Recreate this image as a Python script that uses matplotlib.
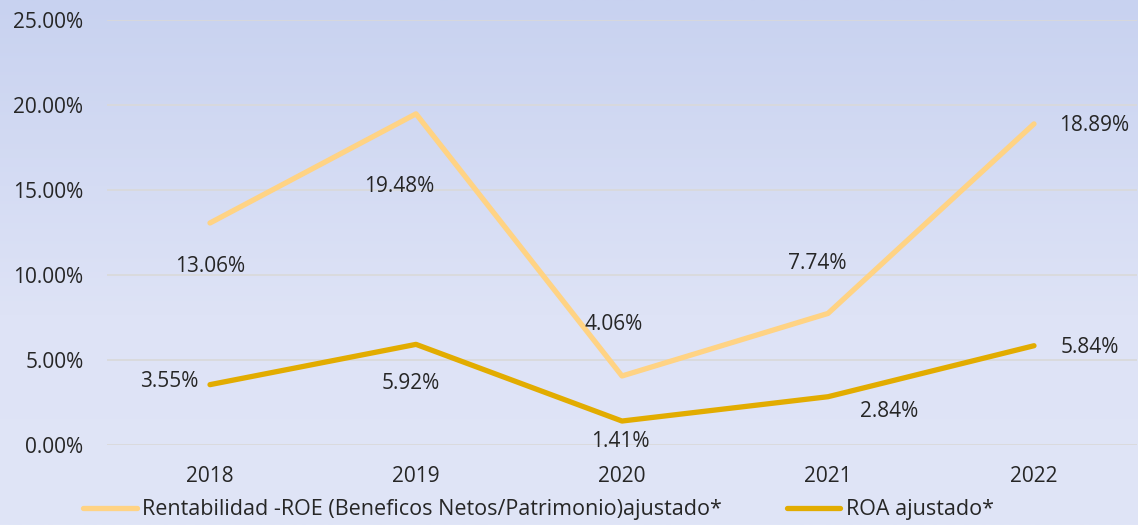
import matplotlib.pyplot as plt
import matplotlib as mpl
import numpy as np
from matplotlib.colors import LinearSegmentedColormap

mpl.rcParams.update({
    "font.family": ["Open Sans", "DejaVu Sans"],
    "font.size": 15,
    "text.color": "#262626",
    "xtick.color": "#262626",
    "ytick.color": "#262626",
})

years = ["2018", "2019", "2020", "2021", "2022"]
roe = [13.06, 19.48, 4.06, 7.74, 18.89]
roa = [3.55, 5.92, 1.41, 2.84, 5.84]
roe_label = "Rentabilidad -ROE (Beneficos Netos/Patrimonio)ajustado*"
roa_label = "ROA ajustado*"

# label offsets in points (dx, dy, ha)
roe_offsets = [(0, -31, "center"), (-12, -52, "center"), (-6, 37, "center"),
               (-8, 36, "center"), (18, -1, "left")]
roa_offsets = [(-8, 2, "right"), (-4, -28, "center"), (-1, -15, "center"),
               (44, -11, "center"), (19, -1, "left")]

roe_color = "#FFD384"
roa_color = "#E2AC00"

fig = plt.figure(figsize=(11.38, 5.25), dpi=100)

# gradient background
bg = fig.add_axes([0, 0, 1, 1], zorder=-10)
cmap = LinearSegmentedColormap.from_list(
    "bg", [(0, "#C8D2F0"), (0.6, "#DEE3F6"), (1.0, "#E0E5F7")])
grad = np.linspace(0, 1, 256).reshape(-1, 1)
bg.imshow(grad, aspect="auto", cmap=cmap, extent=[0, 1, 0, 1], origin="upper")
bg.axis("off")

ax = fig.add_axes([107 / 1138, 1 - 445 / 525, 1030 / 1138, 425 / 525])
ax.set_facecolor("none")
x = np.arange(len(years))

ax.plot(x, roe, color=roe_color, linewidth=3.8, solid_capstyle="round",
        label=roe_label, zorder=3)
ax.plot(x, roa, color=roa_color, linewidth=3.8, solid_capstyle="round",
        label=roa_label, zorder=3)

for xi, v, (dx, dy, ha) in zip(x, roe, roe_offsets):
    ax.annotate(f"{v:.2f}%", (xi, v), xytext=(dx, dy), textcoords="offset points",
                ha=ha, va="center", fontsize=15)
for xi, v, (dx, dy, ha) in zip(x, roa, roa_offsets):
    ax.annotate(f"{v:.2f}%", (xi, v), xytext=(dx, dy), textcoords="offset points",
                ha=ha, va="center", fontsize=15)

ax.set_xlim(-0.5, len(years) - 0.5)
ax.set_ylim(0, 25)
ax.set_yticks(np.arange(0, 26, 5))
ax.set_yticklabels([f"{t:.2f}%" for t in np.arange(0, 26, 5)])
ax.set_xticks(x)
ax.set_xticklabels(years)
ax.tick_params(axis="y", length=0, pad=17, labelsize=15)
ax.tick_params(axis="x", length=0, pad=15, labelsize=15)
ax.grid(axis="y", color="#D9D9D9", linewidth=1.2)
ax.set_axisbelow(True)
for s in ax.spines.values():
    s.set_visible(False)

fig.legend(loc="center", bbox_to_anchor=(0.473, 1 - 510 / 525), ncol=2,
           frameon=False, fontsize=15.5, handlelength=2.5, handletextpad=0.25,
           columnspacing=3.0)

fig.savefig("out.png", dpi=100)
